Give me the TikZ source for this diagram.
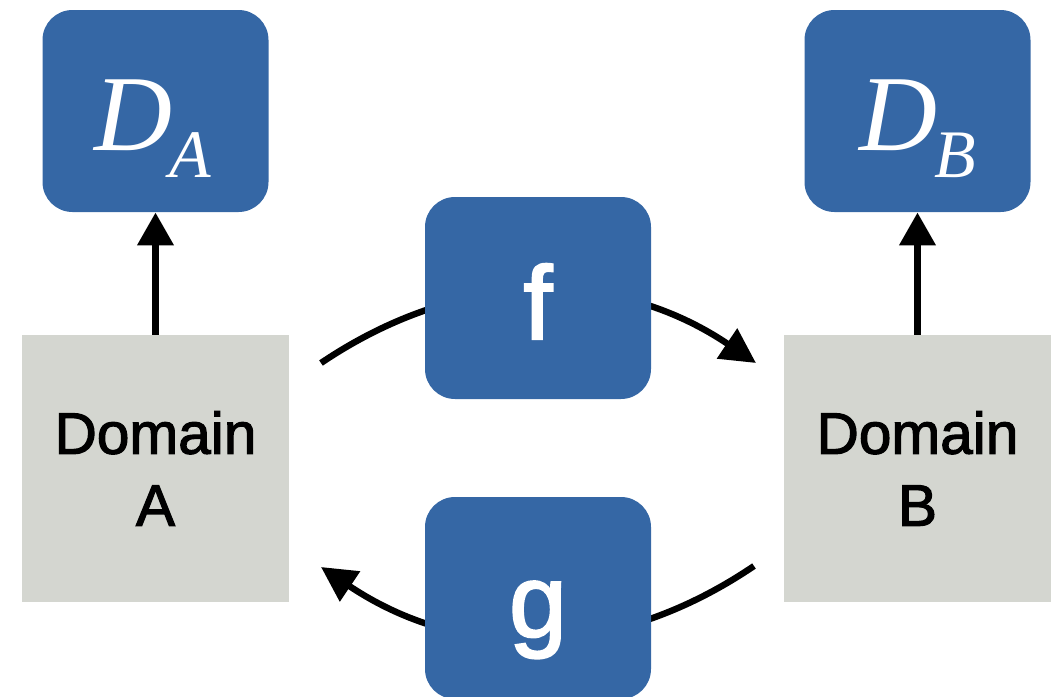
\documentclass[tikz,border=0pt]{standalone}
\usepackage{fontspec}
\setmainfont{Liberation Serif}
\setsansfont{Liberation Sans}
\newfontfamily\heavysans[FakeBold=2]{Liberation Sans}
\usetikzlibrary{arrows.meta}
\definecolor{boxblue}{RGB}{53,103,165}
\definecolor{domgray}{RGB}{212,214,208}
\begin{document}
\begin{tikzpicture}[x=0.5pt,y=-0.5pt,
  bluebox/.style={fill=boxblue, draw=none, rounded corners=15pt, minimum width=113pt, minimum height=101pt, inner sep=0pt, text=white},
  dombox/.style={fill=domgray, draw=none, minimum width=133.5pt, minimum height=133.5pt, inner sep=0pt, align=center, font=\heavysans\fontsize{29.3}{36}\selectfont},
  letter/.style={font=\heavysans\fontsize{52}{52}\selectfont, text height=41pt, text depth=0pt},
  dlabel/.style={font=\fontsize{54}{54}\selectfont\itshape, text height=39pt, text depth=0pt},
  uparrow/.style={line width=3.6pt, -{Triangle[length=16.5pt,width=17.5pt]}},
  curvearrow/.style={line width=3.2pt, -{Triangle[length=17.5pt,width=17.5pt]}}]
\useasboundingbox (0,0) rectangle (1057,697);
% arc end points
\coordinate (fs) at (321,363);
\coordinate (fe) at (756,363);
\coordinate (gs) at (754,566);
\coordinate (ge) at (321,567);
\draw[curvearrow] (fs) to[bend left=34] (fe);
\draw[curvearrow] (gs) to[bend left=34] (ge);
% nodes
\node[dombox] (A) at (155.5,468.5) {Domain\\A};
\node[dombox] (B) at (917.5,468.5) {Domain\\B};
\node[bluebox, dlabel] (DA) at (155.5,111) {\kern-3pt D\kern-1.5pt\raisebox{-13.5pt}{\fontsize{34}{34}\selectfont A}};
\node[bluebox, dlabel] (DB) at (917.5,111) {D\kern-1.5pt\raisebox{-13.5pt}{\fontsize{34}{34}\selectfont B}};
\node[bluebox, letter] (f) at (538,298) {f};
\node[bluebox, letter, text height=39pt] (g) at (538,598) {g};
% vertical arrows
\draw[uparrow] (A.north) -- (DA.south);
\draw[uparrow] (B.north) -- (DB.south);
\end{tikzpicture}
\end{document}
